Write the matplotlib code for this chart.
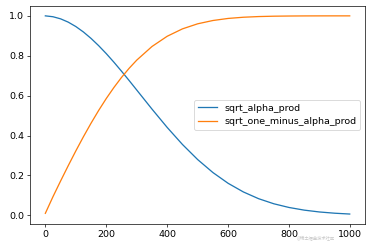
import matplotlib.pyplot as plt

steps = [0, 25, 50, 75, 100, 125, 150, 175, 200, 225, 250, 275, 300, 350,
         400, 450, 500, 550, 600, 650, 700, 750, 800, 850, 900, 950, 999]
sqrt_alpha_prod = [1.0, 0.9956, 0.9851, 0.9686, 0.9465, 0.9191, 0.8869, 0.8505,
                   0.8106, 0.7677, 0.7225, 0.6758, 0.6281, 0.5326, 0.4404,
                   0.3552, 0.2794, 0.2144, 0.1604, 0.1171, 0.0833, 0.0578,
                   0.0392, 0.0259, 0.0167, 0.0105, 0.0064]
sqrt_one_minus_alpha_prod = [0.01, 0.0933, 0.1719, 0.2485, 0.3228, 0.3941,
                             0.4619, 0.5259, 0.5857, 0.6408, 0.6914, 0.7371,
                             0.7781, 0.8464, 0.8978, 0.9348, 0.9602, 0.9767,
                             0.9871, 0.9931, 0.9965, 0.9983, 0.9992, 0.9997,
                             0.9999, 1.0, 1.0]

plt.rcParams["font.size"] = 11

fig, ax = plt.subplots(figsize=(6, 4), dpi=62)
fig.subplots_adjust(left=0.081, right=0.981, top=0.976, bottom=0.097)

ax.plot(steps, sqrt_alpha_prod, label="sqrt_alpha_prod")
ax.plot(steps, sqrt_one_minus_alpha_prod, label="sqrt_one_minus_alpha_prod")
ax.legend(loc="center right")

# faint site watermark in the corner
fig.text(0.9, 0.04, "@稀土掘金技术社区", fontsize=5, color="#b0b0b0", alpha=0.7,
         ha="right", va="center", family=["Noto Sans CJK SC", "DejaVu Sans"])

plt.savefig("out.png")
